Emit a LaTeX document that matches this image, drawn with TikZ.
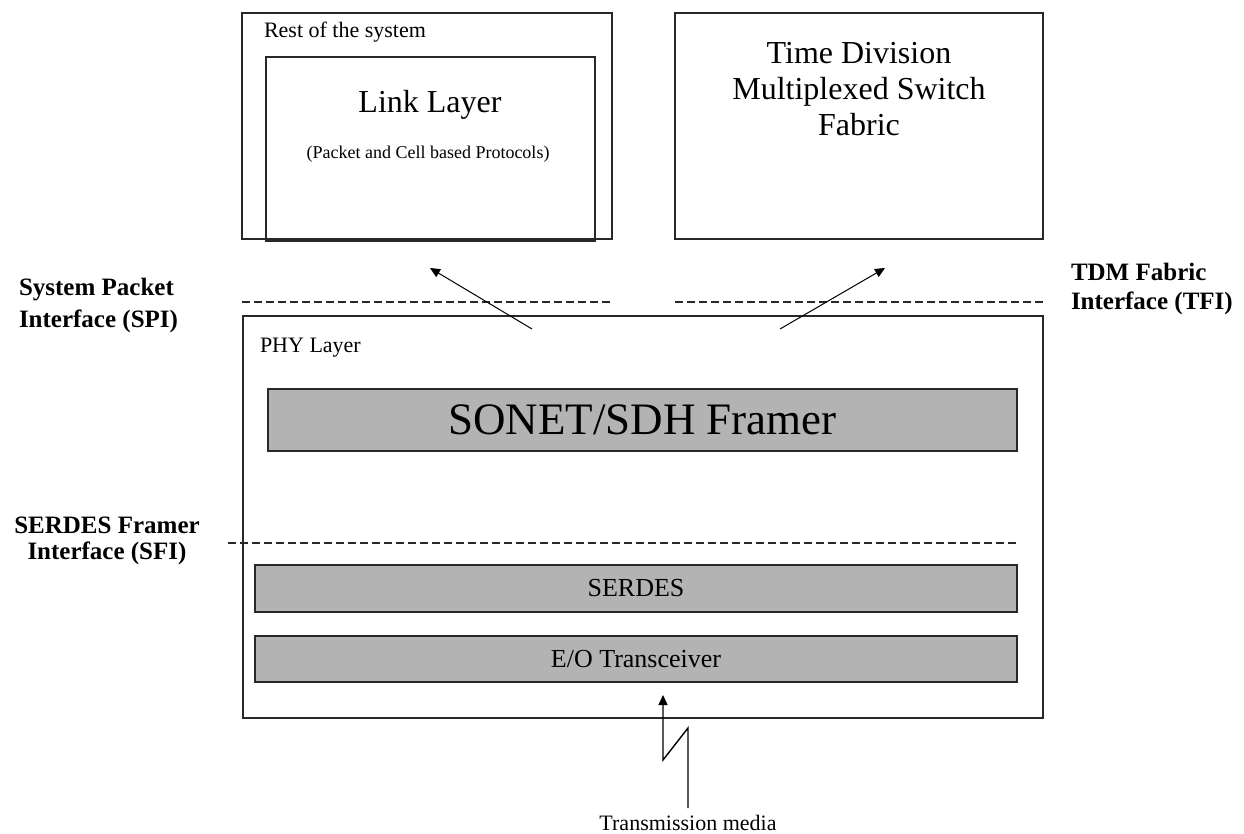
\documentclass[tikz,border=0pt]{standalone}
\usepackage{fontspec}
\setmainfont{Liberation Serif}
\usetikzlibrary{arrows.meta}
\definecolor{barfill}{RGB}{179,179,179}
\definecolor{edge}{RGB}{40,40,40}
\newcommand{\fsz}[2]{\fontsize{#1}{#2}\selectfont}
\begin{document}
\begin{tikzpicture}[x=1pt,y=-1pt,
  frame/.style={draw=edge, line width=1.6pt, inner sep=0pt, outer sep=0pt, anchor=north west},
  bar/.style={frame, fill=barfill},
  txt/.style={inner sep=0pt, outer sep=0pt, text=black},
  iface/.style={txt, font=\bfseries\fsz{25}{#1}},
  sep/.style={draw=edge, line width=1.9pt, dash pattern=on 8pt off 4pt},
  ptr/.style={draw=black, line width=1pt, -{Triangle[length=10pt,width=9pt]}},
]
\fill[white] (0,0) rectangle (1244,834);
\useasboundingbox (0,0) rectangle (1244,834);

% upper blocks: system side and switch fabric
\node[frame, minimum width=370pt, minimum height=226pt] (rest) at (242,13) {};
\node[frame, line width=2pt, minimum width=329pt, minimum height=184pt] (link) at (266,57) {};
\node[txt, anchor=west, font=\fsz{22}{26}] (resttxt) at (264,32) {Rest of the system};
\node[txt, font=\fsz{32}{36}] (linktxt) at (430,105) {Link Layer};
\node[txt, font=\fsz{18}{22}] (linksub) at (428,154) {(Packet and Cell based Protocols)};

\node[frame, minimum width=368pt, minimum height=226pt] (tdm) at (675,13) {};
\node[txt, align=center, font=\fsz{32}{36}] (tdmtxt) at (859,89) {Time Division\\Multiplexed Switch\\Fabric};

% interface boundaries
\coordinate (spiA) at (242,302);
\coordinate (spiB) at (612,302);
\coordinate (tfiA) at (675,302);
\coordinate (tfiB) at (1043,302);
\draw[sep] (spiA) -- (spiB);
\draw[sep] (tfiA) -- (tfiB);
\node[iface=32, anchor=west, align=left] (spi) at (19,305) {System Packet\\Interface (SPI)};
\node[iface=29, anchor=west, align=left] (tfi) at (1071,289) {TDM Fabric\\Interface (TFI)};

% PHY layer
\node[frame, minimum width=800pt, minimum height=402pt] (phy) at (243,316) {};
\node[txt, anchor=west, font=\fsz{22}{26}] (phytxt) at (260,348) {PHY Layer};

\node[bar, minimum width=749pt, minimum height=62pt] (sonet) at (268,389) {};
\node[txt, font=\fsz{45}{50}] at (sonet.center) {SONET/SDH Framer};

\coordinate (sfiA) at (228,543);
\coordinate (sfiB) at (1018,543);
\draw[sep] (sfiA) -- (sfiB);
\node[iface=26, align=center] (sfi) at (107,541) {SERDES Framer\\Interface (SFI)};

\node[bar, minimum width=762pt, minimum height=47pt] (serdes) at (255,565) {};
\node[txt, font=\fsz{26}{30}] at (serdes.center) {SERDES};
\node[bar, minimum width=762pt, minimum height=46pt] (eo) at (255,636) {};
\node[txt, font=\fsz{26}{30}] at (eo.center) {E/O Transceiver};

% data paths out of the PHY
\coordinate (upL0) at (532,329);
\coordinate (upL1) at (430,268);
\coordinate (upR0) at (780,329);
\coordinate (upR1) at (885,268);
\draw[ptr] (upL0) -- (upL1);
\draw[ptr] (upR0) -- (upR1);

% line input
\node[txt, font=\fsz{22}{26}] (media) at (688,823) {Transmission media};
\coordinate (m0) at (688,808);
\coordinate (m1) at (688,728);
\coordinate (m2) at (663,760);
\coordinate (m3) at (663,695);
\draw[ptr, line width=1.4pt] (m0) -- (m1) -- (m2) -- (m3);
\end{tikzpicture}
\end{document}
